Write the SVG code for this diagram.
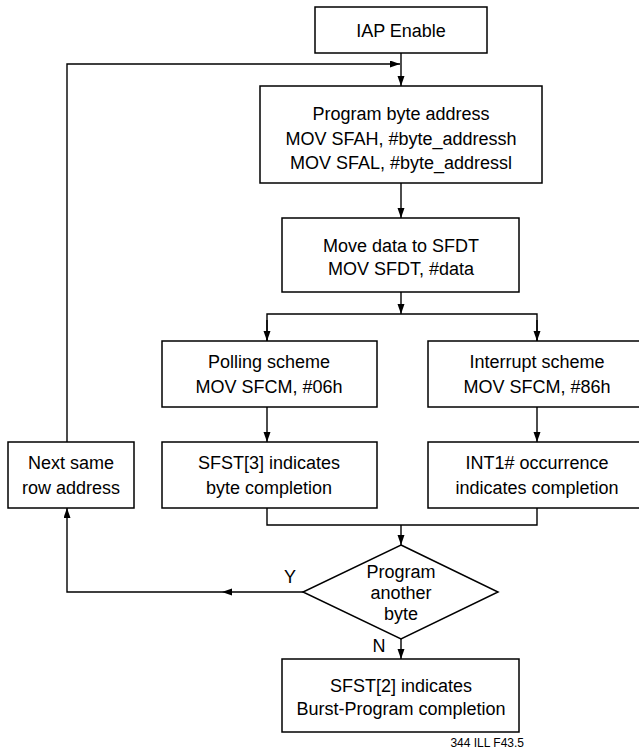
<svg xmlns="http://www.w3.org/2000/svg" width="639" height="750" viewBox="0 0 639 750">
<style>
.box{fill:#fff;stroke:#000;stroke-width:1.5}
.ln{fill:none;stroke:#000;stroke-width:1.4}
.t{font-family:"Liberation Sans",Arial,sans-serif;font-size:18px;fill:#000;text-anchor:middle}
.s{font-family:"Liberation Sans",Arial,sans-serif;font-size:12px;fill:#000;text-anchor:end}
</style>
<defs>
<marker id="ah" markerUnits="userSpaceOnUse" markerWidth="10" markerHeight="8" refX="10" refY="3.5" orient="auto">
<path d="M0,0 L10,3.5 L0,7 z" fill="#000"/>
</marker>
</defs>
<rect width="639" height="750" fill="#fff"/>
<g id="connectors">
<line class="ln" x1="401" y1="53" x2="401" y2="86" marker-end="url(#ah)"/>
<polyline class="ln" points="67,442 67,64 400,64" marker-end="url(#ah)"/>
<line class="ln" x1="401" y1="183" x2="401" y2="218" marker-end="url(#ah)"/>
<line class="ln" x1="401" y1="292" x2="401" y2="314" marker-end="url(#ah)"/>
<polyline class="ln" points="267,341 267,314 537,314 537,341"/>
<line class="ln" x1="267" y1="320" x2="267" y2="341" marker-end="url(#ah)"/>
<line class="ln" x1="537" y1="320" x2="537" y2="341" marker-end="url(#ah)"/>
<line class="ln" x1="267" y1="407" x2="267" y2="442" marker-end="url(#ah)"/>
<line class="ln" x1="537" y1="407" x2="537" y2="442" marker-end="url(#ah)"/>
<polyline class="ln" points="267,508 267,525 537,525 537,508"/>
<line class="ln" x1="401" y1="525" x2="401" y2="545" marker-end="url(#ah)"/>
<line class="ln" x1="303" y1="592" x2="222" y2="592" marker-end="url(#ah)"/>
<polyline class="ln" points="222,592 67,592 67,508" marker-end="url(#ah)"/>
<line class="ln" x1="401" y1="639" x2="401" y2="659" marker-end="url(#ah)"/>
<text class="t" x="290" y="583">Y</text>
<text class="t" x="379" y="652">N</text>
</g>
<g id="iap">
<rect class="box" x="315" y="7" width="172" height="46"/>
<text class="t" x="401" y="37">IAP Enable</text>
</g>
<g id="progaddr">
<rect class="box" x="260" y="86" width="282" height="97"/>
<text class="t" x="401" y="120">Program byte address</text>
<text class="t" x="401" y="145">MOV SFAH, #byte_addressh</text>
<text class="t" x="401" y="169">MOV SFAL, #byte_addressl</text>
</g>
<g id="movedata">
<rect class="box" x="282" y="218" width="237" height="74"/>
<text class="t" x="401" y="252">Move data to SFDT</text>
<text class="t" x="401" y="275">MOV SFDT, #data</text>
</g>
<g id="polling">
<rect class="box" x="162" y="341" width="215" height="66"/>
<text class="t" x="269" y="368">Polling scheme</text>
<text class="t" x="269" y="393">MOV SFCM, #06h</text>
</g>
<g id="interrupt">
<rect class="box" x="428" y="341" width="218" height="66"/>
<text class="t" x="537" y="368">Interrupt scheme</text>
<text class="t" x="537" y="393">MOV SFCM, #86h</text>
</g>
<g id="sfst3">
<rect class="box" x="162" y="442" width="215" height="66"/>
<text class="t" x="269" y="469">SFST[3] indicates</text>
<text class="t" x="269" y="494">byte completion</text>
</g>
<g id="int1">
<rect class="box" x="428" y="442" width="218" height="66"/>
<text class="t" x="537" y="469">INT1# occurrence</text>
<text class="t" x="537" y="494">indicates completion</text>
</g>
<g id="nextrow">
<rect class="box" x="8" y="442" width="126" height="66"/>
<text class="t" x="71" y="469">Next same</text>
<text class="t" x="71" y="494">row address</text>
</g>
<g id="decision">
<polygon class="box" points="401,545 498,592 401,639 303,592"/>
<text class="t" x="401" y="578">Program</text>
<text class="t" x="401" y="599">another</text>
<text class="t" x="401" y="620">byte</text>
</g>
<g id="sfst2">
<rect class="box" x="282" y="659" width="237" height="73"/>
<text class="t" x="401" y="692">SFST[2] indicates</text>
<text class="t" x="401" y="715">Burst-Program completion</text>
</g>
<text class="s" x="524" y="747">344 ILL F43.5</text>
</svg>
